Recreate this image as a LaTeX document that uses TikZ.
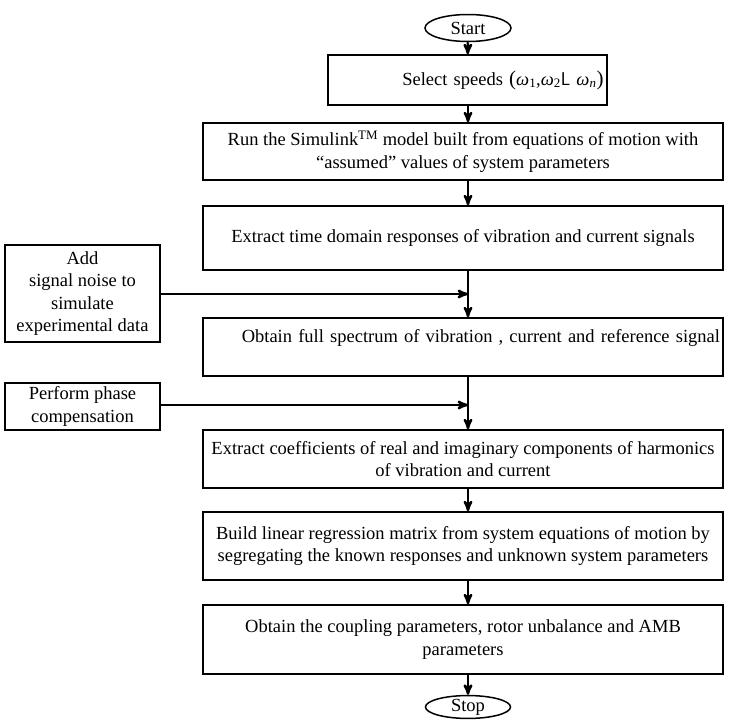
\documentclass[tikz,border=0pt]{standalone}
\usepackage{fontspec}
\setmainfont{Liberation Serif}
\usetikzlibrary{shapes.geometric,arrows}

\begin{document}
\begin{tikzpicture}[->,>=stealth',x=1pt,y=-1pt,semithick,
    font=\rmfamily\fontsize{18.5}{22.5}\selectfont,
    block/.style={draw,rectangle,line width=1.5pt,minimum width=520pt,align=center,inner sep=2pt},
    side/.style={draw,rectangle,line width=1.5pt,minimum width=155pt,align=center,inner sep=2pt},
    term/.style={draw,ellipse,line width=1.5pt,minimum width=86pt,minimum height=27pt,inner sep=0pt},
    flow/.style={line width=2.4pt}]
		\useasboundingbox (0,0) rectangle (729,720);
		\node[term] (n1) at (468,28) {Start};
		\node[block,minimum width=279pt,minimum height=50pt,text width=272pt,align=right] (n2) at (467.5,80) {Select speeds {\fontsize{21}{22}\selectfont(}\textit{ω}\textsubscript{1},\textit{ω}\textsubscript{2}\textsf{L}\ \textit{ω}\textsubscript{\textit{n}}{\fontsize{21}{22}\selectfont)}};
		\node[block,minimum height=57pt] (n3) at (463,151.5) {Run the Simulink\textsuperscript{TM} model built from equations of motion with\\``assumed'' values of system parameters};
		\node[block,minimum height=64pt] (n4) at (463,238) {Extract time domain responses of vibration and current signals};
		\node[block,minimum height=58pt,text width=514pt,align=right] (n5) at (463,347) {Obtain full spectrum of vibration , current and reference signal\\ \mbox{}};
		\node[block,minimum height=58pt] (n6) at (463,459) {Extract coefficients of real and imaginary components of harmonics\\of vibration and current};
		\node[block,minimum height=68pt] (n7) at (463,546) {Build linear regression matrix from system equations of motion by\\segregating the known responses and unknown system parameters};
		\node[block,minimum height=69pt] (n8) at (463,639.5) {Obtain the coupling parameters, rotor unbalance and AMB\\parameters};
		\node[term,minimum width=85pt,minimum height=22pt] (n9) at (468,707) {Stop};
		
		\node[side,minimum height=97pt] (a1) at (82.5,293.5) {Add\\signal noise to\\simulate\\experimental data};
		\node[side,minimum height=47pt] (a2) at (82.5,406.5) {Perform phase\\compensation};
		\coordinate (j1) at (468,294);
		\coordinate (j2) at (468,405);
		
		\path[flow] (n1) edge (n2);
		\path[flow] (n2.south -| n1) edge (n3.north -| n1);
		\path[flow] (n3.south -| n1) edge (n4.north -| n1);
		\path[flow] (n4.south -| n1) edge (n5.north -| n1);
		\path[flow] (n5.south -| n1) edge (n6.north -| n1);
		\path[flow] (n6.south -| n1) edge (n7.north -| n1);
		\path[flow] (n7.south -| n1) edge (n8.north -| n1);
		\path[flow] (n8.south -| n1) edge (n9);
		
		\path[flow] (a1.east |- j1) edge (j1);
		\path[flow] (a2.east |- j2) edge (j2);
\end{tikzpicture}
\end{document}
